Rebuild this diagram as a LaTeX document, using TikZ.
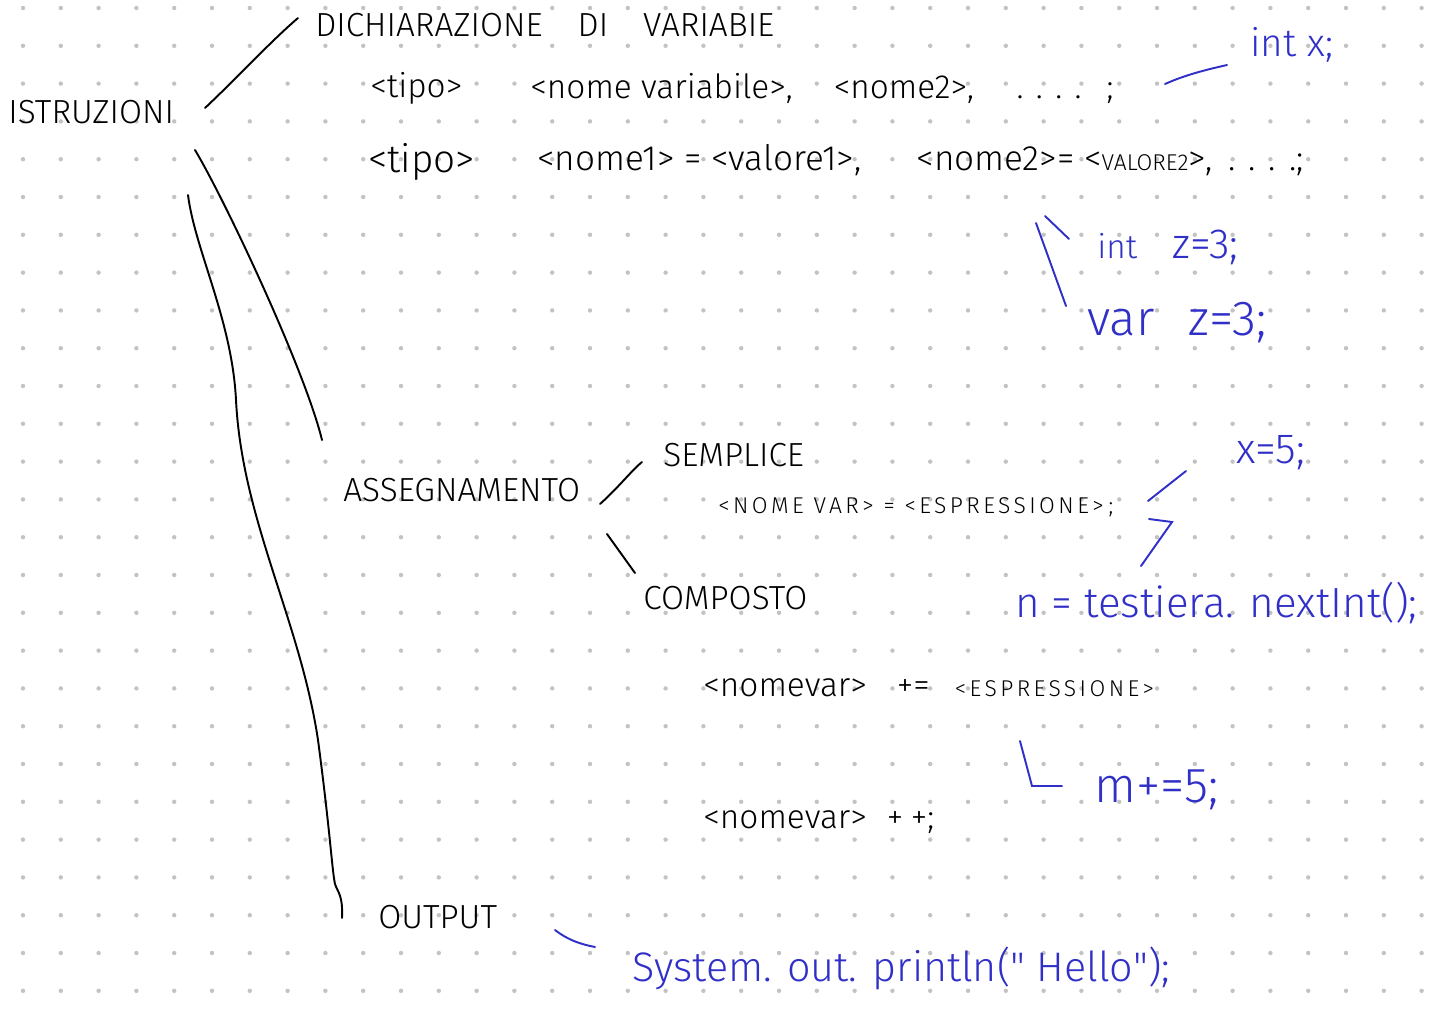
\documentclass[tikz,border=0pt]{standalone}
\usepackage{fontspec}
\newfontfamily\hand{Fira Sans Light}
\newfontfamily\handsp{Fira Sans Light}[LetterSpace=15]
\definecolor{blu}{RGB}{48,48,200}
\definecolor{puntini}{RGB}{195,195,195}
\tikzset{
  testo/.style={inner sep=0pt, anchor=west, font=\hand\fontsize{19}{21}\selectfont},
  titolo/.style={testo, font=\hand\fontsize{19}{21}\selectfont},
  piccolo/.style={testo, font=\handsp\fontsize{13}{15}\selectfont},
  nota/.style={testo, text=blu, font=\hand\fontsize{22}{24}\selectfont},
  tratto/.style={line width=1.1pt, line cap=round},
  trattoblu/.style={tratto, draw=blu},
}
\newcommand{\maiusc}[1]{{\handsp\fontsize{13}{15}\selectfont #1}}

\begin{document}
\begin{tikzpicture}[x=0.02cm, y=-0.02cm]
  \useasboundingbox (0,0) rectangle (1429,1012);
  \fill[white] (0,0) rectangle (1429,1012);
  % griglia di puntini
  \foreach \i in {0,...,37}
    \foreach \j in {0,...,26}
      \fill[puntini] (23+37.8*\i, 8+37.8*\j) circle (2.2);

  % istruzioni
  \node[titolo] (istr) at (8,112) {ISTRUZIONI};

  % dichiarazione
  \node[titolo] (dich) at (315,25) {DICHIARAZIONE\hspace{7mm}DI\hspace{7mm}VARIABIE};
  \node[testo] (tipoa) at (370,88) {<tipo>};
  \node[testo] (nomia) at (530,88) {<nome variabile>,\hspace{8.2mm}<nome2>,\hspace{8.5mm}. . . .\hspace{5mm};};
  \node[testo, font=\hand\fontsize{22}{24}\selectfont] (tipob) at (368,162) {<tipo>};
  \node[testo, font=\hand\fontsize{20}{22}\selectfont] (nomib) at (537,160)
    {<nome1> = <valore1>,\hspace{11mm}<nome2>= <{\fontsize{13}{15}\selectfont VALORE2}>,\hspace{3mm}. . . .;};
  \node[nota] (intx) at (1250,45) {int x;};
  \node[nota] (intz) at (1097,247) {{\fontsize{19}{21}\selectfont int}\hspace{7mm}{\fontsize{24}{26}\selectfont z=3;}};
  \node[nota, font=\hand\fontsize{28}{30}\selectfont] (varz) at (1087,323) {var\hspace{0.7em}z=3;};

  % assegnamento
  \node[titolo] (asseg) at (343,490) {ASSEGNAMENTO};
  \node[titolo] (sempl) at (663,455) {SEMPLICE};
  \node[piccolo] (sesp) at (718,507) {<NOME VAR> = <ESPRESSIONE>\hspace{1mm};};
  \node[nota, font=\hand\fontsize{24}{26}\selectfont] (xcinque) at (1236,453) {x=5;};
  \node[nota, font=\hand\fontsize{24}{26}\selectfont] (nextint) at (1015,603) {n = testiera. nextInt();};
  \node[titolo] (compo) at (643,598) {COMPOSTO};
  \node[testo] (piu) at (703,688) {<nomevar>\hspace{6mm}+=\hspace{5mm}\maiusc{<ESPRESSIONE>}};
  \node[nota, font=\hand\fontsize{28}{30}\selectfont] (mcinque) at (1094,790) {m+=5;};
  \node[testo] (pp) at (703,822) {<nomevar>\hspace{4mm}+\hspace{1.5mm}+;};

  % output
  \node[titolo] (outp) at (378,917) {OUTPUT};
  \node[nota, font=\hand\fontsize{23.5}{25}\selectfont] (sysout) at (632,968) {System. out. println(" Hello");};

  % estremi dei tratti
  \coordinate (i1) at (205,108);
  \coordinate (d1) at (298,18);
  \coordinate (i2) at (195,150);
  \coordinate (a1) at (322,440);
  \coordinate (i3) at (188,195);
  \coordinate (o1) at (342,918);
  \coordinate (a2) at (600,504);
  \coordinate (s1) at (642,462);
  \coordinate (a3) at (607,534);
  \coordinate (c1) at (635,573);
  \coordinate (o2) at (555,930);
  \coordinate (y1) at (595,947);

  % rami neri
  \draw[tratto] (i1) .. controls (240,75) and (270,42) .. (d1);
  \draw[tratto] (i2) .. controls (225,200) and (305,370) .. (a1);
  \draw[tratto] (i3) .. controls (195,250) and (232,320) .. (236,400)
    .. controls (242,520) and (300,620) .. (318,740)
    .. controls (330,830) and (332,870) .. (335,884)
    .. controls (338,893) and (343,895) .. (o1);
  \draw[tratto] (a2) .. controls (618,488) and (632,470) .. (s1);
  \draw[tratto] (a3) -- (c1);

  % tratti blu
  \draw[trattoblu] (1165,84) .. controls (1185,75) and (1205,70) .. (1227,65);
  \draw[trattoblu] (1036,223) -- (1066,306);
  \draw[trattoblu] (1045,216) -- (1069,239);
  \draw[trattoblu] (1148,501) -- (1186,471);
  \draw[trattoblu] (1149,519) -- (1172,522) -- (1141,566);
  \draw[trattoblu] (1020,741) -- (1032,786) -- (1062,786);
  \draw[trattoblu] (o2) .. controls (568,940) and (580,944) .. (y1);
\end{tikzpicture}
\end{document}
